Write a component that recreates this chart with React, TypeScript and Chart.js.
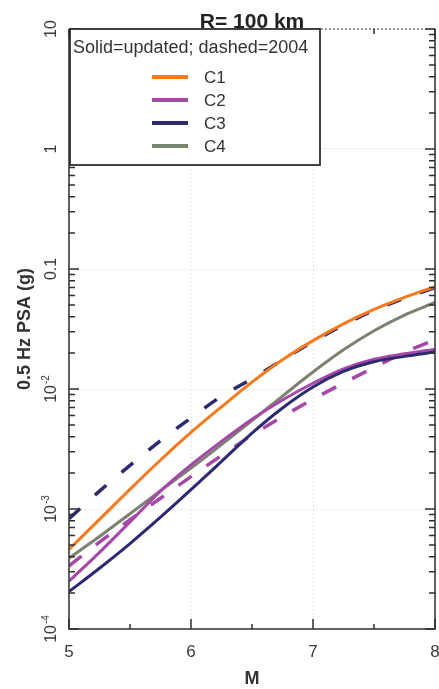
import React, { useEffect, useRef } from 'react';
import { Chart, registerables } from 'chart.js';

Chart.register(...registerables);

// ---- data ----
const magnitudes = [5, 5.25, 5.5, 5.75, 6, 6.25, 6.5, 6.75, 7, 7.25, 7.5, 7.75, 8];

const c1Updated = [4.6e-4, 8.2e-4, 1.46e-3, 2.56e-3, 4.35e-3, 7.1e-3, 0.0114, 0.0175, 0.0253, 0.0349, 0.046, 0.058, 0.0713];
const c2Updated = [2.5e-4, 4.35e-4, 7.8e-4, 1.41e-3, 2.33e-3, 3.66e-3, 5.6e-3, 8.1e-3, 0.01117, 0.01472, 0.0177, 0.01963, 0.0215];
const c3Updated = [2.05e-4, 3.21e-4, 5.15e-4, 8.55e-4, 1.45e-3, 2.49e-3, 4.29e-3, 6.95e-3, 0.0104, 0.014, 0.01686, 0.0187, 0.0203];
const c4Updated = [3.9e-4, 5.9e-4, 9.14e-4, 1.42e-3, 2.19e-3, 3.44e-3, 5.45e-3, 8.73e-3, 0.01384, 0.0212, 0.0306, 0.0413, 0.0526];
const c2Model2004 = [3.35e-4, 5.3e-4, 8.13e-4, 1.23e-3, 1.86e-3, 2.79e-3, 4.12e-3, 5.89e-3, 8.22e-3, 0.0112, 0.0151, 0.0202, 0.0257];
const c3Model2004 = [8.3e-4, 1.41e-3, 2.31e-3, 3.71e-3, 5.74e-3, 8.7e-3, 0.01216, 0.0175, 0.0248, 0.0341, 0.0452, 0.0569, 0.070];

const xTickValues = [5, 6, 7, 8];
const xMinorTickValues = [5.5, 6.5, 7.5];
const yTickValues = [10, 1, 0.1, 0.01, 0.001, 0.0001];
const yTickBases = ['10', '1', '0.1', '10', '10', '10'];
const yTickExponents = ['', '', '', '-2', '-3', '-4'];

const legendLabels = ['C1', 'C2', 'C3', 'C4'];
const seriesColors = ['#f67a1d', '#a648a8', '#2b2a70', '#7a8270'];

const titleText = 'R= 100 km';
const legendTitle = 'Solid=updated; dashed=2004';
const xAxisTitle = 'M';
const yAxisTitle = '0.5 Hz PSA (g)';

const FONT = "'Liberation Sans', Arial, Helvetica, sans-serif";

const toPoints = (vals: number[]) => vals.map((v, i) => ({ x: magnitudes[i], y: v }));

const decorPlugin = {
  id: 'decor',
  afterDraw(chart: any) {
    const { ctx, chartArea: a, scales } = chart;
    const xs = scales.x;
    const ys = scales.y;
    ctx.save();
    const axisColor = '#2f2f2f';
    ctx.strokeStyle = axisColor;
    ctx.lineWidth = 1.5;

    // frame: left, bottom, right solid
    ctx.beginPath();
    ctx.moveTo(a.left, a.top);
    ctx.lineTo(a.left, a.bottom);
    ctx.lineTo(a.right, a.bottom);
    ctx.lineTo(a.right, a.top);
    ctx.stroke();
    // top dotted
    ctx.save();
    ctx.lineWidth = 1.2;
    ctx.setLineDash([2, 2]);
    ctx.beginPath();
    ctx.moveTo(a.left, a.top);
    ctx.lineTo(a.right, a.top);
    ctx.stroke();
    ctx.restore();

    // x ticks (inward)
    ctx.lineWidth = 1.5;
    const xt = (v: number, len: number) => {
      const px = xs.getPixelForValue(v);
      ctx.beginPath();
      ctx.moveTo(px, a.bottom);
      ctx.lineTo(px, a.bottom - len);
      ctx.moveTo(px, a.top);
      ctx.lineTo(px, a.top + len);
      ctx.stroke();
    };
    xTickValues.forEach((v) => xt(v, 10));
    xMinorTickValues.forEach((v) => xt(v, 5));

    // y ticks (inward)
    const minExp = Math.round(Math.log10(ys.min));
    const maxExp = Math.round(Math.log10(ys.max));
    for (let e = minExp; e <= maxExp; e++) {
      for (let m = 1; m <= 9; m++) {
        const v = m * Math.pow(10, e);
        if (v > ys.max * 1.0001) break;
        const py = ys.getPixelForValue(v);
        const len = m === 1 ? 10 : 6;
        ctx.beginPath();
        ctx.moveTo(a.left, py);
        ctx.lineTo(a.left + len, py);
        ctx.moveTo(a.right, py);
        ctx.lineTo(a.right - len, py);
        ctx.stroke();
      }
    }

    // x tick labels
    ctx.fillStyle = '#3a3a3a';
    ctx.font = `17px ${FONT}`;
    ctx.textAlign = 'center';
    ctx.textBaseline = 'middle';
    xTickValues.forEach((v) => {
      ctx.fillText(String(v), xs.getPixelForValue(v), a.bottom + 23);
    });

    // y tick labels (rotated, with superscripts)
    yTickValues.forEach((v, i) => {
      const py = ys.getPixelForValue(v);
      const base = yTickBases[i];
      const sup = yTickExponents[i];
      ctx.save();
      ctx.translate(a.left - 17, py);
      ctx.rotate(-Math.PI / 2);
      ctx.font = `16px ${FONT}`;
      const wb = ctx.measureText(base).width;
      ctx.font = `10px ${FONT}`;
      const ws = sup ? ctx.measureText(sup).width + 1 : 0;
      const total = wb + ws;
      let x0 = -total / 2;
      if (!sup) x0 = -wb / 2;
      ctx.textAlign = 'left';
      ctx.textBaseline = 'middle';
      ctx.font = `16px ${FONT}`;
      ctx.fillText(base, x0, 0);
      if (sup) {
        ctx.font = `10px ${FONT}`;
        ctx.fillText(sup, x0 + wb + 1, -6);
      }
      ctx.restore();
    });

    // axis titles
    ctx.fillStyle = '#333';
    ctx.font = `bold 18px ${FONT}`;
    ctx.textAlign = 'center';
    ctx.textBaseline = 'middle';
    ctx.fillText(xAxisTitle, (a.left + a.right) / 2, a.bottom + 50);
    ctx.save();
    ctx.translate(25, (a.top + a.bottom) / 2);
    ctx.rotate(-Math.PI / 2);
    ctx.fillText(yAxisTitle, 0, 0);
    ctx.restore();

    // legend box
    const lx = a.left + 1;
    const ly = a.top;
    const lw = 250;
    const lh = 136;
    ctx.fillStyle = '#ffffff';
    ctx.fillRect(lx, ly, lw, lh);
    ctx.strokeStyle = '#2f2f2f';
    ctx.lineWidth = 1.8;
    ctx.strokeRect(lx, ly, lw, lh);
    ctx.fillStyle = '#333';
    ctx.font = `18px ${FONT}`;
    ctx.textAlign = 'left';
    ctx.textBaseline = 'alphabetic';
    ctx.fillText(legendTitle, lx + 3, ly + 24);
    legendLabels.forEach((lab, i) => {
      const yy = ly + 48 + i * 23;
      ctx.strokeStyle = seriesColors[i];
      ctx.lineWidth = 4;
      ctx.beginPath();
      ctx.moveTo(lx + 82, yy);
      ctx.lineTo(lx + 118, yy);
      ctx.stroke();
      ctx.fillStyle = '#333';
      ctx.font = `17px ${FONT}`;
      ctx.textBaseline = 'middle';
      ctx.fillText(lab, lx + 134, yy + 1);
    });

    // title
    ctx.fillStyle = '#222';
    ctx.font = `bold 21px ${FONT}`;
    ctx.textAlign = 'center';
    ctx.textBaseline = 'alphabetic';
    ctx.fillText(titleText, (a.left + a.right) / 2, a.top - 1);

    ctx.restore();
  },
};

export default function App() {
  const ref = useRef<HTMLCanvasElement | null>(null);

  useEffect(() => {
    if (!ref.current) return;
    const gridColor = 'rgba(150,150,150,0.45)';
    const chart = new Chart(ref.current, {
      type: 'line',
      data: {
        datasets: [
          { label: 'C1', data: toPoints(c1Updated), borderColor: seriesColors[0], borderWidth: 3 },
          { label: 'C3', data: toPoints(c3Updated), borderColor: seriesColors[2], borderWidth: 3 },
          { label: 'C2', data: toPoints(c2Updated), borderColor: seriesColors[1], borderWidth: 3 },
          { label: 'C4', data: toPoints(c4Updated), borderColor: seriesColors[3], borderWidth: 3 },
          { label: 'C2 2004', data: toPoints(c2Model2004), borderColor: seriesColors[1], borderWidth: 3.5, borderDash: [16, 18] },
          { label: 'C3 2004', data: toPoints(c3Model2004), borderColor: seriesColors[2], borderWidth: 3.5, borderDash: [15, 20] },
        ],
      },
      options: {
        animation: false,
        responsive: false,
        maintainAspectRatio: false,
        layout: { padding: { top: 29, right: 4, left: 0, bottom: 0 } },
        elements: {
          point: { radius: 0 },
          line: { cubicInterpolationMode: 'monotone', fill: false },
        },
        plugins: {
          legend: { display: false },
          title: { display: false },
          tooltip: { enabled: false },
        },
        scales: {
          x: {
            type: 'linear',
            min: 5,
            max: 8,
            ticks: { display: false, stepSize: 1 },
            grid: {
              drawTicks: false,
              lineWidth: 1,
              color: (c: any) =>
                c.tick && (c.tick.value === 6 || c.tick.value === 7) ? gridColor : 'rgba(0,0,0,0)',
            },
            border: { display: false, dash: [1, 3] },
            afterFit: (s: any) => {
              s.height = 60;
            },
          },
          y: {
            type: 'logarithmic',
            min: 1e-4,
            max: 10,
            ticks: { display: false },
            grid: {
              drawTicks: false,
              lineWidth: 1,
              color: (c: any) => {
                if (!c.tick) return 'rgba(0,0,0,0)';
                const l = Math.log10(c.tick.value);
                const isDecade = Math.abs(l - Math.round(l)) < 1e-6;
                return isDecade && c.tick.value > 1.5e-4 && c.tick.value < 5 ? gridColor : 'rgba(0,0,0,0)';
              },
            },
            border: { display: false, dash: [1, 3] },
            afterFit: (s: any) => {
              s.width = 69;
            },
          },
        },
      },
      plugins: [decorPlugin],
    } as any);
    return () => chart.destroy();
  }, []);

  return (
    <div style={{ position: 'absolute', left: 0, top: 0, width: 439, height: 689, background: '#fff' }}>
      <canvas ref={ref} width={439} height={689} style={{ width: 439, height: 689, display: 'block' }} />
    </div>
  );
}
